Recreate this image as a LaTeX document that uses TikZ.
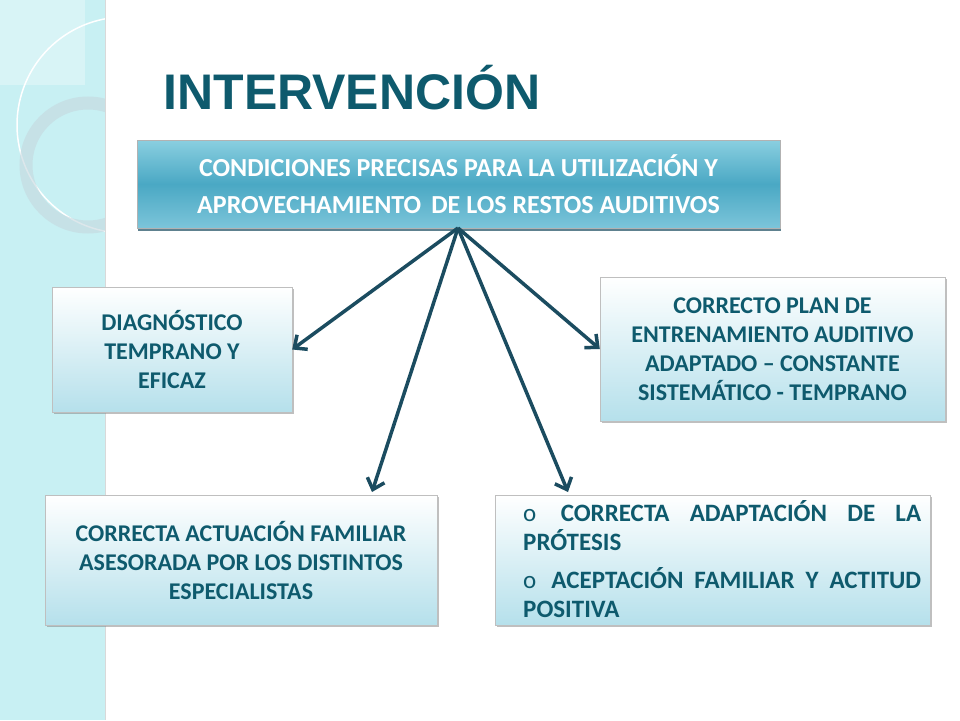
\documentclass[tikz,border=0pt]{standalone}
\usepackage{fontspec}
\setmainfont{Carlito}
\newfontfamily\titlefont{Liberation Sans}
\usetikzlibrary{shadows,arrows.meta}
\definecolor{dteal}{HTML}{0E5A6D}
\definecolor{arr}{HTML}{1B4C60}
\definecolor{strip}{HTML}{C8F0F3}
\definecolor{lbot}{HTML}{B5E0EB}
\definecolor{ttop}{HTML}{8ACFE0}
\definecolor{tmid}{HTML}{4AA8C4}
\definecolor{tbot}{HTML}{7CC5DA}
\tikzset{
 lightbox/.style={draw=gray!50, top color=white, bottom color=lbot, drop shadow={opacity=0.5,shadow xshift=2pt,shadow yshift=-2pt}, text=dteal, font=\bfseries\fontsize{24}{29}\selectfont, align=center, inner sep=0pt},
 topbox/.style={draw=gray!60, top color=ttop, bottom color=tbot, middle color=tmid, drop shadow={opacity=0.7,fill=arr,shadow xshift=1pt,shadow yshift=-3pt}, text=white, font=\bfseries\fontsize{26}{37}\selectfont, align=center, inner sep=0pt},
 conn/.style={draw=arr, line width=3.5pt, -{Straight Barb[length=10pt,width=18pt,line width=3.5pt]}}
}
\begin{document}
\begin{tikzpicture}[x=1pt,y=-1pt]
\useasboundingbox (0,0) rectangle (960,720);
\fill[white] (0,0) rectangle (960,720);
\fill[strip] (0,0) rectangle (105,720);
\begin{scope}
\clip (0,0) rectangle (105,720);
\fill[white,opacity=0.3] (0,0) rectangle (85,85);
\draw[white, line width=1.5pt] (125,125) circle (108);
\draw[cyan!30!gray!40, line width=13pt, opacity=0.6] (88,165) circle (62);
\end{scope}
\draw[gray!30, line width=1pt] (105,0) -- (105,720);
\node[font=\titlefont\bfseries\fontsize{50}{54}\selectfont, text=dteal, anchor=west] (title) at (160,88) {INTERVENCIÓN};
\node[topbox, minimum width=643pt, minimum height=88pt] (top) at (458.5,184) {CONDICIONES PRECISAS PARA LA UTILIZACIÓN Y\\APROVECHAMIENTO \,DE LOS RESTOS AUDITIVOS};
\node[lightbox, minimum width=240pt, minimum height=125pt] (diag) at (172,349.5) {DIAGNÓSTICO\\TEMPRANO Y\\EFICAZ};
\node[lightbox, minimum width=345pt, minimum height=144pt] (plan) at (772.5,349) {CORRECTO PLAN DE\\ENTRENAMIENTO AUDITIVO\\ADAPTADO – CONSTANTE\\SISTEMÁTICO - TEMPRANO};
\node[lightbox, minimum width=392pt, minimum height=130pt] (fam) at (241,560) {CORRECTA ACTUACIÓN FAMILIAR\\ASESORADA POR LOS DISTINTOS\\ESPECIALISTAS};
\node[lightbox, minimum width=435pt, minimum height=130pt] (prot) at (712.5,560) {};
\node[text=dteal, font=\bfseries\fontsize{25}{29}\selectfont, anchor=north west, text width=398pt, align=justify, inner sep=0pt] (ptext) at (523,500) {\hyphenpenalty=10000\exhyphenpenalty=10000\textmd{o}\, CORRECTA ADAPTACIÓN DE LA PRÓTESIS\par\vspace{9pt}\textmd{o}\, ACEPTACIÓN FAMILIAR Y ACTITUD POSITIVA};
\coordinate (src) at (458,228);
\draw[conn] (src) -- (diag.east);
\draw[conn] (src) -- (372,492);
\draw[conn] (src) -- (568,492);
\draw[conn] (src) -- (plan.west);
\end{tikzpicture}
\end{document}
